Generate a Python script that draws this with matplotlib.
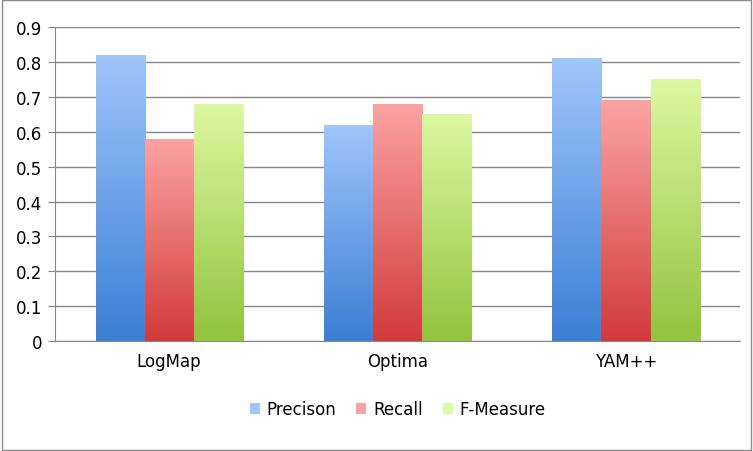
import matplotlib
matplotlib.use("Agg")
import matplotlib.pyplot as plt
import numpy as np
from matplotlib.colors import LinearSegmentedColormap
from matplotlib.patches import Rectangle

categories = ["LogMap", "Optima", "YAM++"]
series = ["Precison", "Recall", "F-Measure"]
precision = [0.82, 0.62, 0.81]
recall = [0.58, 0.68, 0.69]
fmeasure = [0.68, 0.65, 0.75]

# (bottom colour, top colour) per series
grads = [("#3a7fd5", "#a0c6fb"), ("#d23a3a", "#fba3a3"), ("#93c33e", "#ddf8a2")]

fig = plt.figure(figsize=(7.53, 4.52), dpi=100)
fig.patches.append(Rectangle((0.002, 0.002), 0.996, 0.996, transform=fig.transFigure,
                             fill=False, edgecolor="#8c8c8c", lw=1))
ax = fig.add_axes([0.073, 0.243, 0.91, 0.695])

width = 0.215
x = np.arange(len(categories))
for i, (vals, (c0, c1)) in enumerate(zip([precision, recall, fmeasure], grads)):
    cmap = LinearSegmentedColormap.from_list(f"g{i}", [c0, c1])
    bars = ax.bar(x + (i - 1) * width, vals, width, color=c1, label=series[i], zorder=2)
    for b in bars:
        x0, w, h = b.get_x(), b.get_width(), b.get_height()
        im = ax.imshow(np.linspace(0, 1, 256).reshape(-1, 1), cmap=cmap, origin="lower",
                       extent=(x0, x0 + w, 0, h), aspect="auto", zorder=3)
        im.set_clip_path(b)

ax.set_xlim(-0.5, 2.5)
ax.set_ylim(0, 0.9)
ax.set_yticks(np.arange(0, 0.91, 0.1))
ax.set_yticklabels(["0"] + [f"{v:.1f}" for v in np.arange(0.1, 0.91, 0.1)])
ax.set_xticks(x)
ax.set_xticklabels(categories)
ax.tick_params(labelsize=12, length=0, pad=8)
ax.tick_params(axis="y", length=5, direction="out", color="#888888", pad=4)
ax.grid(axis="y", color="#888888", lw=1, zorder=0)
for s in ["top", "right"]:
    ax.spines[s].set_visible(False)
for s in ["left", "bottom"]:
    ax.spines[s].set_color("#888888")

ax.legend(loc="upper center", bbox_to_anchor=(0.5, -0.14), ncol=3, frameon=False,
          fontsize=12, handlelength=0.6, handleheight=0.6, columnspacing=1.2, handletextpad=0.4)

fig.savefig("out.png", dpi=100)
